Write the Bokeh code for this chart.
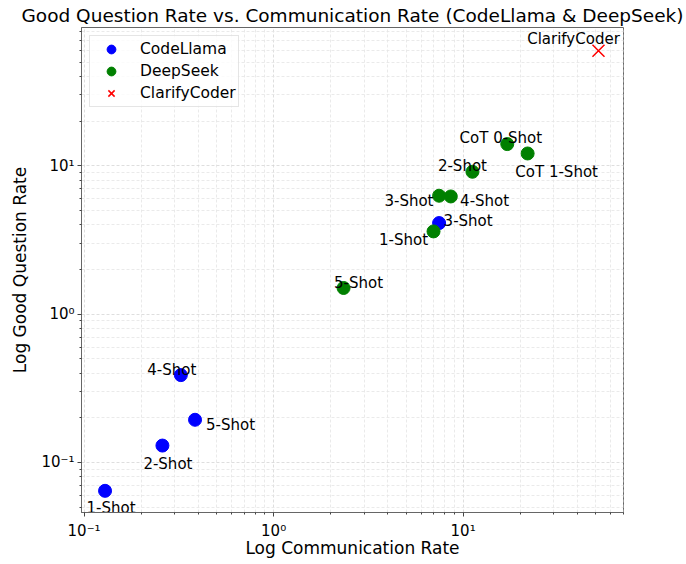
from bokeh.plotting import figure
from bokeh.models import ColumnDataSource, Range1d, FixedTicker, CustomJSTickFormatter, Legend, LegendItem
from bokeh.core.properties import value
from bokeh.embed import file_html
from bokeh.resources import INLINE

# ---------------- data ----------------
codellama_labels = ["1-Shot", "2-Shot", "3-Shot", "4-Shot", "5-Shot"]
codellama_comm = [0.129, 0.259, 7.47, 0.324, 0.385]
codellama_good = [0.0644, 0.130, 4.11, 0.388, 0.194]

deepseek_labels = ["1-Shot", "2-Shot", "3-Shot", "4-Shot", "5-Shot", "CoT 0-Shot", "CoT 1-Shot"]
deepseek_comm = [6.98, 11.2, 7.47, 8.61, 2.34, 17.1, 21.9]
deepseek_good = [3.61, 9.11, 6.28, 6.21, 1.50, 14.0, 12.1]

clarify_labels = ["ClarifyCoder"]
clarify_comm = [51.8]
clarify_good = [59.6]

x_major_ticks = [0.1, 1, 10]
y_major_ticks = [0.1, 1, 10]

# label placement (screen px offsets, alignment) - styling only
cl_offsets = [(6, 17, "center"), (5.5, 18.6, "center"), (4.5, -1.6, "left"), (-9, -5, "center"), (11, 5, "left")]
ds_offsets = [(-5.4, 8.6, "right"), (-10, -5.3, "center"), (-5.6, 5.7, "right"), (9.3, 5, "left"),
              (15, -4.6, "center"), (-6.4, -5.6, "center"), (29, 18.3, "center")]
cc_offsets = [(-25, -11.7, "center")]

FONT = "DejaVu Sans"

p = figure(width=686, height=564, x_axis_type="log", y_axis_type="log",
           x_range=Range1d(0.0969, 70.2), y_range=Range1d(0.046, 85.5),
           output_backend="svg", toolbar_location=None,
           min_border_left=81, min_border_right=63, min_border_top=27, min_border_bottom=52)

p.title.text = "Good Question Rate vs. Communication Rate (CodeLlama & DeepSeek)"
p.title.text_font = FONT
p.title.text_font_size = "18.5px"
p.title.text_font_style = "normal"
p.title.align = "center"
p.title.standoff = 4
p.title.text_color = "black"

# grid
for g in (p.xgrid, p.ygrid):
    g.grid_line_color = "#d6d6d6"
    g.grid_line_dash = "3 2"
    g.grid_line_width = 0.8
    g.minor_grid_line_color = "#e4e4e4"
    g.minor_grid_line_dash = "3 2"
    g.minor_grid_line_width = 0.8

p.outline_line_color = "#666666"
p.outline_line_width = 1

fmt = CustomJSTickFormatter(code="""
const e = Math.round(Math.log10(tick));
const sup = {'-':'\u207b','0':'\u2070','1':'\u00b9','2':'\u00b2','3':'\u00b3'};
return '10' + String(e).split('').map(c => sup[c]).join('');
""")

def minors(lo, hi):
    out = []
    e = lo
    while e <= hi:
        for k in range(2, 10):
            out.append(k * 10.0 ** e)
        e += 1
    return out

p.xaxis.ticker = FixedTicker(ticks=x_major_ticks, minor_ticks=minors(-2, 1))
p.yaxis.ticker = FixedTicker(ticks=y_major_ticks, minor_ticks=minors(-2, 1))
for ax in (p.xaxis, p.yaxis):
    ax.formatter = fmt
    ax.major_label_text_font = FONT
    ax.major_label_text_font_size = "15px"
    ax.major_label_text_color = "black"
    ax.axis_label_text_font = FONT
    ax.axis_label_text_font_size = "17px"
    ax.axis_label_text_font_style = "normal"
    ax.axis_label_text_color = "black"
    ax.axis_line_color = "#666666"
    ax.major_tick_line_color = "#444444"
    ax.minor_tick_line_color = "#444444"
    ax.major_tick_out = 4
    ax.major_tick_in = 0
    ax.minor_tick_out = 2
    ax.minor_tick_in = 0
p.xaxis.axis_label = "Log Communication Rate"
p.yaxis.axis_label = "Log Good Question Rate"
p.xaxis.major_label_standoff = 5
p.yaxis.major_label_standoff = 3
p.xaxis.axis_label_standoff = -5
p.yaxis.axis_label_standoff = 8

# scatter
r_cl = p.scatter(codellama_comm, codellama_good, size=13, color="blue", marker="circle")
r_ds = p.scatter(deepseek_comm, deepseek_good, size=13, color="green", marker="circle")
r_cc = p.scatter(clarify_comm, clarify_good, size=17, line_color="red", line_width=1.5, marker="x")

def add_labels(xs, ys, labels, offs):
    src = ColumnDataSource(dict(x=xs, y=ys, t=labels,
                                dx=[o[0] for o in offs], dy=[o[1] for o in offs],
                                al=[o[2] for o in offs]))
    p.text(x="x", y="y", text="t", x_offset="dx", y_offset="dy", text_align="al",
           text_baseline="alphabetic", text_font=value(FONT), text_font_size="15px",
           text_color="black", source=src)

add_labels(codellama_comm, codellama_good, codellama_labels, cl_offsets)
add_labels(deepseek_comm, deepseek_good, deepseek_labels, ds_offsets)
add_labels(clarify_comm, clarify_good, clarify_labels, cc_offsets)

legend = Legend(items=[LegendItem(label="CodeLlama", renderers=[r_cl]),
                       LegendItem(label="DeepSeek", renderers=[r_ds]),
                       LegendItem(label="ClarifyCoder", renderers=[r_cc])],
                location="top_left")
legend.margin = 8
legend.padding = 2
legend.spacing = 0
legend.label_height = 22
legend.glyph_height = 22
legend.glyph_width = 38
legend.label_standoff = 10
legend.label_text_font = FONT
legend.label_text_font_size = "15.5px"
legend.label_text_color = "black"
legend.border_line_color = "#cccccc"
legend.border_line_width = 1
legend.background_fill_alpha = 0.8
p.add_layout(legend)

open("out.html", "w").write(file_html(p, INLINE))
